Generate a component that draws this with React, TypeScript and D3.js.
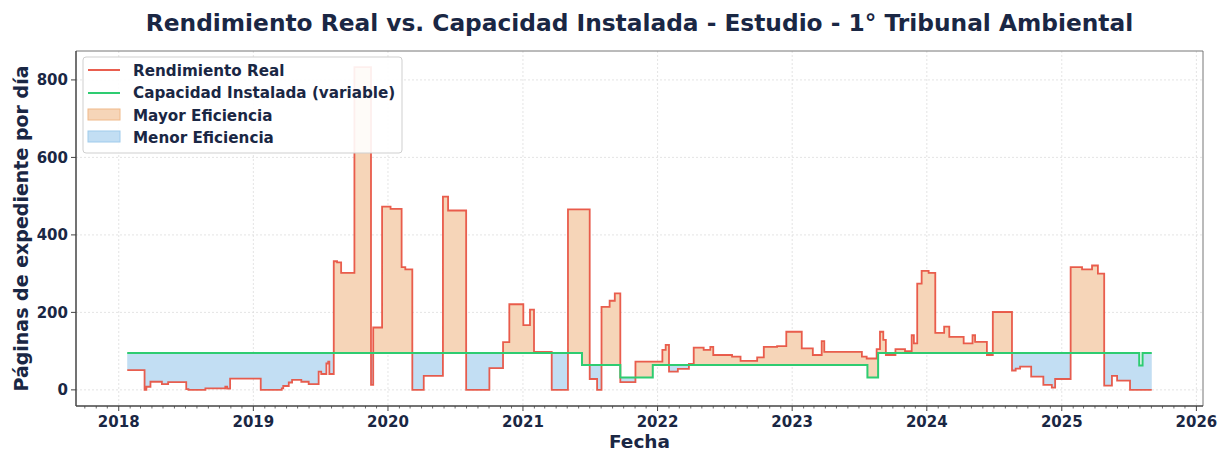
import React from "react";
import * as d3 from "d3";

const realDates = [
  "2018-01-24","2018-03-12","2018-03-17","2018-03-28","2018-04-28","2018-05-15","2018-07-03","2018-07-09",
  "2018-08-24","2018-10-17","2018-10-22","2018-10-30","2019-01-21","2019-03-19","2019-03-23","2019-04-07",
  "2019-04-16","2019-05-11","2019-05-31","2019-06-27","2019-07-04","2019-07-18","2019-07-23","2019-07-26",
  "2019-08-07","2019-08-16","2019-08-27","2019-10-02","2019-11-16","2019-11-22","2019-12-16","2020-01-08",
  "2020-02-07","2020-02-17","2020-03-07","2020-04-07","2020-05-29","2020-06-12","2020-07-31","2020-10-02",
  "2020-11-08","2020-11-25","2021-01-02","2021-01-20","2021-01-31","2021-03-20","2021-05-03","2021-07-01",
  "2021-07-21","2021-08-02","2021-08-24","2021-09-07","2021-09-22","2021-11-02","2022-01-14","2022-01-23",
  "2022-02-01","2022-02-25","2022-03-27","2022-04-09","2022-05-06","2022-05-24","2022-06-01","2022-07-22",
  "2022-08-14","2022-09-28","2022-10-16","2022-11-21","2022-12-16","2023-01-27","2023-02-26","2023-03-22",
  "2023-03-29","2023-07-09","2023-07-22","2023-08-18","2023-08-27","2023-09-05","2023-09-12","2023-10-08",
  "2023-11-03","2023-11-21","2023-11-27","2023-12-06","2023-12-18","2024-01-06","2024-01-24","2024-02-17",
  "2024-03-02","2024-04-10","2024-05-04","2024-05-11","2024-06-12","2024-06-28","2024-08-19","2024-08-29",
  "2024-09-10","2024-10-10","2024-11-12","2024-12-05","2024-12-14","2025-01-25","2025-02-25","2025-03-24",
  "2025-04-09","2025-04-26","2025-05-17","2025-05-31","2025-07-05"
];
const realValues = [
  51,0,8,21,15,20,2,0,
  4,8,3,29,0,4,10,19,
  26,21,15,47,41,68,73,41,
  332,329,302,833,13,161,473,467,
  317,311,0,36,499,463,0,56,
  123,221,167,207,98,0,466,28,
  0,214,230,249,20,73,103,116,
  47,54,67,109,103,111,90,86,
  75,84,111,113,150,107,90,126,
  98,86,81,105,150,129,90,105,
  100,141,120,274,307,302,147,163,
  137,120,141,124,90,201,50,55,
  60,34,13,6,28,317,311,321,
  300,11,36,24,0
];
const capDates = ["2018-01-24","2021-06-10","2021-09-22","2021-12-19","2023-07-24","2023-08-22","2025-07-30","2025-08-08"];
const capValues = [95,64,32,64,32,95,63,95];
const endDate = "2025-09-02";
const yTicks = [0,200,400,600,800];
const legendLabels = ["Rendimiento Real","Capacidad Instalada (variable)","Mayor Eficiencia","Menor Eficiencia"];

const W = 1224, H = 452;
const M = { left: 76, right: 1203, top: 51, bottom: 406 };
const TXT = "#1a2744";
const FONT = "'DejaVu Sans', sans-serif";
const RED = "#e74c3c", GREEN = "#2ecc71";
const ORANGE_FILL = "#f6d5b8", BLUE_FILL = "#c2def3";

export default function App() {
  const parse = d3.timeParse("%Y-%m-%d");
  const rD = realDates.map((s) => parse(s)!);
  const cD = capDates.map((s) => parse(s)!);
  const end = parse(endDate)!;

  const t0 = rD[0].getTime(), t1 = end.getTime();
  const padT = (t1 - t0) * 0.05;
  const x = d3.scaleTime().domain([new Date(t0 - padT), new Date(t1 + padT)]).range([M.left, M.right]);
  const vMax = d3.max(realValues)!;
  const y = d3.scaleLinear().domain([-vMax * 0.05, vMax * 1.05]).range([M.bottom, M.top]);

  const stepVal = (dates: Date[], vals: number[], t: Date) => {
    let v = vals[0];
    for (let i = 0; i < dates.length; i++) if (dates[i].getTime() <= t.getTime()) v = vals[i];
    return v;
  };

  const allT = Array.from(new Set([...rD, ...cD, end].map((d) => d.getTime()))).sort((a, b) => a - b).map((t) => new Date(t));
  const merged = allT.map((t) => ({ t, r: stepVal(rD, realValues, t), c: stepVal(cD, capValues, t) }));

  const areaOver = d3.area<any>().curve(d3.curveStepAfter).x((d) => x(d.t)).y0((d) => y(d.c)).y1((d) => y(Math.max(d.r, d.c)));
  const areaUnder = d3.area<any>().curve(d3.curveStepAfter).x((d) => x(d.t)).y0((d) => y(d.c)).y1((d) => y(Math.min(d.r, d.c)));

  const redPts = [...rD.map((d, i) => ({ t: d, v: realValues[i] })), { t: end, v: realValues[realValues.length - 1] }];
  const capPts = [...cD.map((d, i) => ({ t: d, v: capValues[i] })), { t: end, v: capValues[capValues.length - 1] }];
  const line = d3.line<any>().curve(d3.curveStepAfter).x((d) => x(d.t)).y((d) => y(d.v));

  const years = d3.timeYear.range(new Date(2018, 0, 1), new Date(2026, 0, 2));
  const months = d3.timeMonth.range(x.domain()[0], x.domain()[1]).filter((m) => m.getMonth() !== 0);

  const legX = 83, legY = 57;

  return (
    <svg width={W} height={H} style={{ position: "absolute", left: 0, top: 0, display: "block", background: "#fff" }} fontFamily={FONT}>
      <rect x={0} y={0} width={W} height={H} fill="#fff" />
      {/* grid */}
      {years.map((d, i) => (
        <line key={"gx" + i} x1={x(d)} x2={x(d)} y1={M.top} y2={M.bottom} stroke="#dddddd" strokeWidth={0.8} strokeDasharray="2,2" />
      ))}
      {yTicks.map((v, i) => (
        <line key={"gy" + i} x1={M.left} x2={M.right} y1={y(v)} y2={y(v)} stroke="#dddddd" strokeWidth={0.8} strokeDasharray="2,2" />
      ))}
      {/* fills */}
      <path d={areaOver(merged)!} fill={ORANGE_FILL} />
      <path d={areaUnder(merged)!} fill={BLUE_FILL} />
      {/* lines */}
      <path d={line(redPts)!} fill="none" stroke={RED} strokeWidth={1.8} strokeOpacity={0.9} />
      <path d={line(capPts)!} fill="none" stroke={GREEN} strokeWidth={2} />
      {/* spines */}
      <line x1={M.left} x2={M.right} y1={M.top} y2={M.top} stroke="#777" strokeWidth={1} />
      <line x1={M.right} x2={M.right} y1={M.top} y2={M.bottom} stroke="#777" strokeWidth={1} />
      <line x1={M.left} x2={M.left} y1={M.top} y2={M.bottom} stroke="#444" strokeWidth={1.5} />
      <line x1={M.left} x2={M.right} y1={M.bottom} y2={M.bottom} stroke="#444" strokeWidth={1.5} />
      {/* x ticks */}
      {months.map((d, i) => (
        <line key={"mx" + i} x1={x(d)} x2={x(d)} y1={M.bottom} y2={M.bottom + 2.5} stroke="#444" strokeWidth={0.8} />
      ))}
      {years.map((d, i) => (
        <g key={"tx" + i}>
          <line x1={x(d)} x2={x(d)} y1={M.bottom} y2={M.bottom + 5} stroke="#444" strokeWidth={1} />
          <text x={x(d)} y={427} textAnchor="middle" fontSize={15} fontWeight="bold" fill={TXT}>{d3.timeFormat("%Y")(d)}</text>
        </g>
      ))}
      {/* y ticks */}
      {yTicks.map((v, i) => (
        <g key={"ty" + i}>
          <line x1={M.left - 5} x2={M.left} y1={y(v)} y2={y(v)} stroke="#444" strokeWidth={1} />
          <text x={M.left - 8} y={y(v) + 5.5} textAnchor="end" fontSize={15} fontWeight="bold" fill={TXT}>{v}</text>
        </g>
      ))}
      {/* labels */}
      <text x={(M.left + M.right) / 2} y={448} textAnchor="middle" fontSize={18.5} fontWeight="bold" fill={TXT}>Fecha</text>
      <text transform={`translate(28,${(M.top + M.bottom) / 2}) rotate(-90)`} textAnchor="middle" fontSize={19} fontWeight="bold" fill={TXT}>Páginas de expediente por día</text>
      <text x={(M.left + M.right) / 2} y={31} textAnchor="middle" fontSize={23.3} fontWeight="bold" fill={TXT}>Rendimiento Real vs. Capacidad Instalada - Estudio - 1° Tribunal Ambiental</text>
      {/* legend */}
      <g>
        <rect x={legX} y={legY} width={319} height={96} rx={3} fill="#fff" fillOpacity={0.9} stroke="#cfcfcf" strokeWidth={1} />
        <line x1={88} x2={120} y1={70} y2={70} stroke={RED} strokeWidth={1.8} />
        <line x1={88} x2={120} y1={93} y2={93} stroke={GREEN} strokeWidth={2} />
        <rect x={88} y={109} width={32} height={11} fill={ORANGE_FILL} stroke="#f0b98a" strokeWidth={1} />
        <rect x={88} y={131} width={32} height={11} fill={BLUE_FILL} stroke="#9fcbec" strokeWidth={1} />
        {legendLabels.map((s, i) => (
          <text key={"lg" + i} x={133} y={75.5 + i * 22.5} fontSize={15.2} fontWeight="bold" fill={TXT}>{s}</text>
        ))}
      </g>
    </svg>
  );
}
